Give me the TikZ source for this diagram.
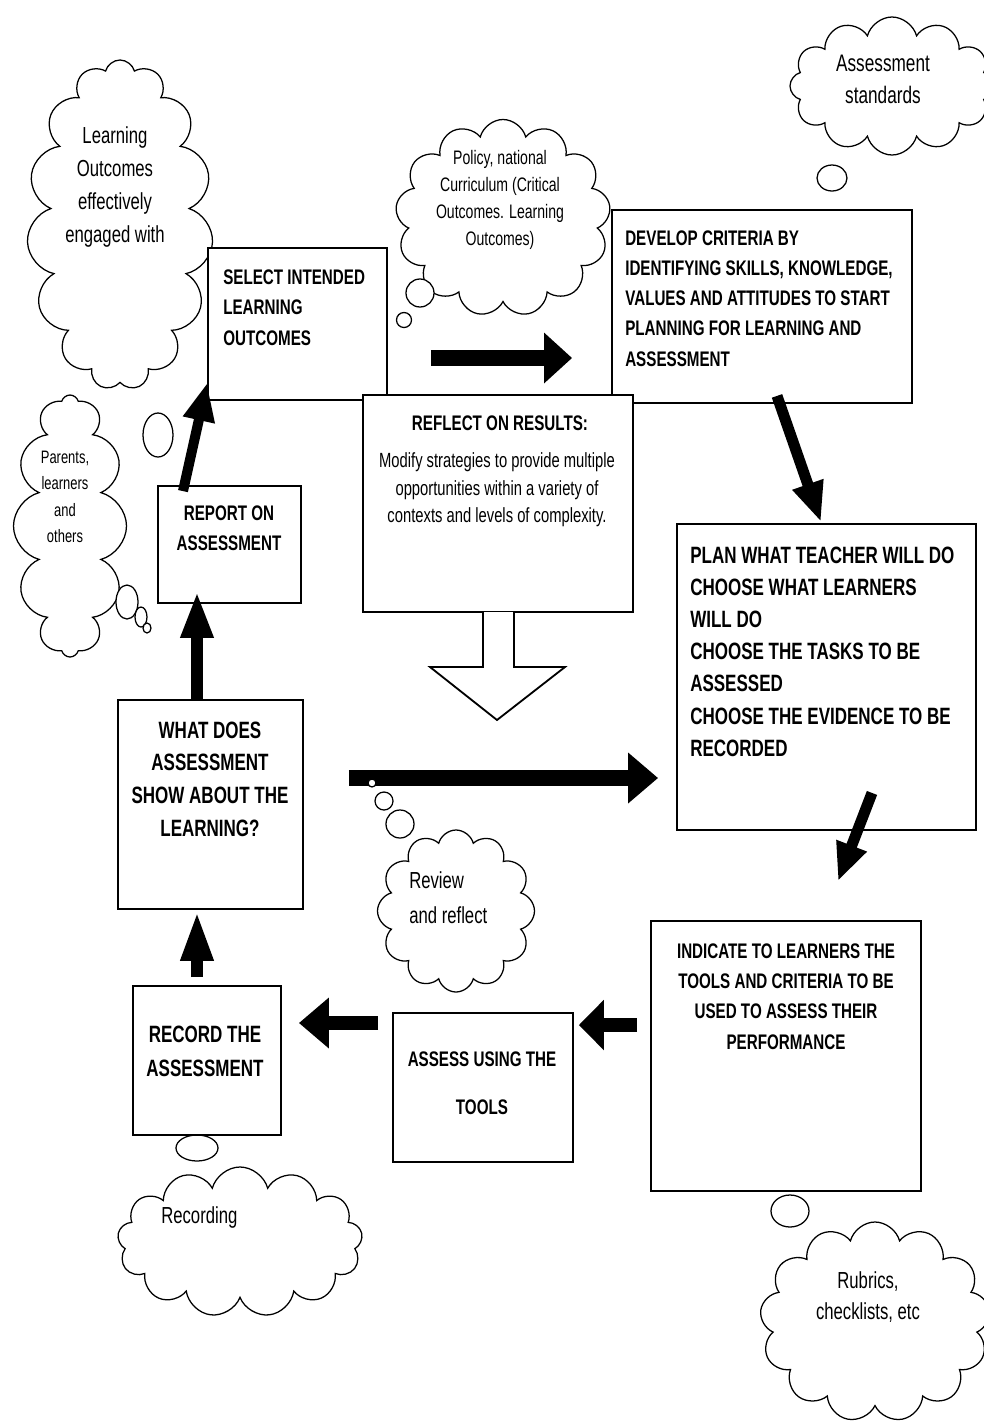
\documentclass[tikz,border=0pt]{standalone}
\usepackage{fontspec}
\setmainfont{Liberation Sans}[FakeStretch=0.72]
\usetikzlibrary{shapes.symbols,shapes.geometric,arrows.meta,positioning}

\tikzset{
	box/.style={draw, rectangle, line width=1.3pt, fill=white, inner sep=0pt},
	thought/.style={draw, cloud, cloud puffs=#1, cloud ignores aspect, line width=0.9pt, fill=white, inner sep=0pt},
	bubble/.style={draw, ellipse, line width=0.9pt, fill=white, inner sep=0pt},
	bigbold/.style={font=\fontsize{16.8pt}{#1}\selectfont\bfseries, inner sep=0pt},
	smallbold/.style={font=\fontsize{15pt}{#1}\selectfont\bfseries, inner sep=0pt},
	cloudtext/.style={font=\fontsize{16.5pt}{#1}\selectfont, inner sep=0pt},
	widearrow/.style={line width=4mm, -{Triangle[length=#1, width=12.25mm]}},
	widearrow/.default=7.5mm,
	slimarrow/.style={line width=2.75mm, -{Triangle[length=#1, width=7.5mm]}},
	slimarrow/.default=10mm
}

\begin{document}
\begin{tikzpicture}[x=0.25mm, y=-0.25mm]
					\useasboundingbox (0,0) rectangle (984,1421);
					\fill[white] (0,0) rectangle (984,1421);

					\node[thought=12, minimum width=51mm, minimum height=34.5mm] (standards) at (892,86) {};
					\node[thought=15, minimum width=46.5mm, minimum height=82.5mm] (engaged) at (120,225) {};
					\node[thought=13, minimum width=53.75mm, minimum height=49.25mm] (policy) at (503,218) {};
					\node[thought=12, minimum width=28.25mm, minimum height=65.5mm] (parents) at (70,526) {};
					\node[thought=12, minimum width=39.25mm, minimum height=40.5mm] (review) at (456,911) {};
					\node[thought=13, minimum width=61.25mm, minimum height=37.5mm] (recording) at (240,1242) {};
					\node[thought=13, minimum width=57.5mm, minimum height=50mm] (rubrics) at (875,1322) {};

					\node[bubble, minimum width=7.5mm, minimum height=6.5mm] (bstd) at (832,178) {};
					\node[bubble, minimum width=7mm, minimum height=7mm] (bpol1) at (420,293) {};
					\node[bubble, minimum width=3.75mm, minimum height=3.75mm] (bpol2) at (404,320) {};
					\node[bubble, minimum width=7.5mm, minimum height=11mm] (beng) at (158,435) {};
					\node[bubble, minimum width=5.5mm, minimum height=8.5mm] (bpar1) at (127,602) {};
					\node[bubble, minimum width=3mm, minimum height=5mm] (bpar2) at (141,617) {};
					\node[bubble, minimum width=2mm, minimum height=2.5mm] (bpar3) at (147,628) {};
					\node[bubble, minimum width=4.5mm, minimum height=4.5mm] (brev2) at (384,801) {};
					\node[bubble, minimum width=7mm, minimum height=7mm] (brev3) at (400,824) {};
					\node[bubble, minimum width=10.5mm, minimum height=6.5mm] (brec) at (197,1148) {};
					\node[bubble, minimum width=9.5mm, minimum height=8mm] (brub) at (790,1211) {};

					\node[box, minimum width=44.75mm, minimum height=38mm] (select) at (297.5,324) {};
					\node[box, minimum width=75mm, minimum height=48.25mm] (develop) at (762,306.5) {};
					\node[box, minimum width=67.5mm, minimum height=54.25mm] (reflect) at (498,503.5) {};
					\draw[line width=1.3pt, fill=white] (483,612) -- (483,667) -- (430,667) -- (497,720) -- (565,667) -- (514,667) -- (514,612);
					\node[box, minimum width=35.75mm, minimum height=29.25mm] (report) at (229.5,544.5) {};
					\node[box, minimum width=74.75mm, minimum height=76.5mm] (plan) at (826.5,677) {};
					\node[box, minimum width=46.25mm, minimum height=52.25mm] (what) at (210.5,804.5) {};
					\node[box, minimum width=67.5mm, minimum height=67.5mm] (indicate) at (786,1056) {};
					\node[box, minimum width=45mm, minimum height=37.25mm] (assess) at (483,1087.5) {};
					\node[box, minimum width=37mm, minimum height=37.25mm] (record) at (207,1060.5) {};

					\draw[widearrow=7mm] ([shift={(43,34)}]select.east) -- ([shift={(-39,51.5)}]develop.west);
					\draw[widearrow] ([shift={(45,-26.5)}]what.east) -- ([shift={(-18,101)}]plan.west);
					\draw[slimarrow] ([shift={(15,-8)}]develop.south) -- ([shift={(-5.5,-1)}]plan.north);
					\draw[slimarrow=9.5mm] ([shift={(45.5,-38)}]plan.south) -- ([shift={(52,-39)}]indicate.north);
					\draw[widearrow=6.25mm, line width=3.5mm] ([shift={(-13,-31)}]indicate.west) -- ([shift={(5,-62.5)}]assess.east);
					\draw[widearrow, line width=3.5mm] ([shift={(-14,-64.5)}]assess.west) -- ([shift={(17,-37.5)}]record.east);
					\draw[slimarrow=12.5mm, line width=3mm] ([shift={(-10,-8)}]record.north) -- ([shift={(-13.5,1)}]what.south);
					\draw[slimarrow=11.75mm, line width=3mm] ([shift={(-13.5,0)}]what.north) -- ([shift={(-32.5,-13)}]report.south);
					\draw[slimarrow=9.5mm, line width=2.5mm] ([shift={(-46.5,6)}]report.north) -- ([shift={(0,-18)}]select.south west);
					\node[bubble, minimum width=2mm, minimum height=2mm] (brev1) at (372,783) {};

					\node[smallbold=21.7pt, align=left, anchor=west] (selectT) at (223,307.5) {SELECT INTENDED\\LEARNING\\OUTCOMES};
					\node[smallbold=21.5pt, align=left, anchor=west] (developT) at (625,298.5) {DEVELOP CRITERIA BY\\IDENTIFYING SKILLS, KNOWLEDGE,\\VALUES AND ATTITUDES TO START\\PLANNING FOR LEARNING AND\\ASSESSMENT};
					\node[smallbold=20pt] (reflectT) at (500,423) {REFLECT ON RESULTS:};
					\node[font=\fontsize{14.6pt}{19.6pt}\selectfont, inner sep=0pt, align=center] (reflectB) at (497,490) {Modify strategies to provide multiple\\opportunities within a variety of\\contexts and levels of complexity.};
					\node[smallbold=21.3pt, align=center] (reportT) at (229,528) {REPORT ON\\ASSESSMENT};
					\node[bigbold=22.9pt, align=left, anchor=west] (planT) at (690,651.5) {PLAN WHAT TEACHER WILL DO\\CHOOSE WHAT LEARNERS\\WILL DO\\CHOOSE THE TASKS TO BE\\ASSESSED\\CHOOSE THE EVIDENCE TO BE\\RECORDED};
					\node[bigbold=23.2pt, align=center] (whatT) at (210,779) {WHAT DOES\\ASSESSMENT\\SHOW ABOUT THE\\LEARNING?};
					\node[smallbold=21.6pt, align=center] (indicateT) at (786,996.5) {INDICATE TO LEARNERS THE\\TOOLS AND CRITERIA TO BE\\USED TO ASSESS THEIR\\PERFORMANCE};
					\node[smallbold=34pt, align=center] (assessT) at (482,1083) {ASSESS USING THE\\TOOLS};
					\node[bigbold=24pt, align=center] (recordT) at (205,1051) {RECORD THE\\ASSESSMENT};

					\node[cloudtext=22.8pt, font=\fontsize{17pt}{22.8pt}\selectfont, align=center] (standardsT) at (883,79) {Assessment\\standards};
					\node[cloudtext=23.7pt, align=center] (engagedT) at (115,187) {Learning\\Outcomes\\effectively\\engaged with};
					\node[font=\fontsize{13.9pt}{19pt}\selectfont, inner sep=0pt, align=center] (policyT) at (500,200) {Policy, national\\Curriculum (Critical\\Outcomes. Learning\\Outcomes)};
					\node[font=\fontsize{12.8pt}{18.7pt}\selectfont, inner sep=0pt, align=center] (parentsT) at (65,497) {Parents,\\learners\\and\\others};
					\node[cloudtext=24.9pt, align=left, anchor=west] (reviewT) at (409,897.5) {Review\\and reflect};
					\node[cloudtext=20pt, anchor=west] (recordingT) at (161,1217) {Recording};
					\node[cloudtext=22pt, align=center] (rubricsT) at (868,1297) {Rubrics,\\checklists, etc};
				\end{tikzpicture}
\end{document}
